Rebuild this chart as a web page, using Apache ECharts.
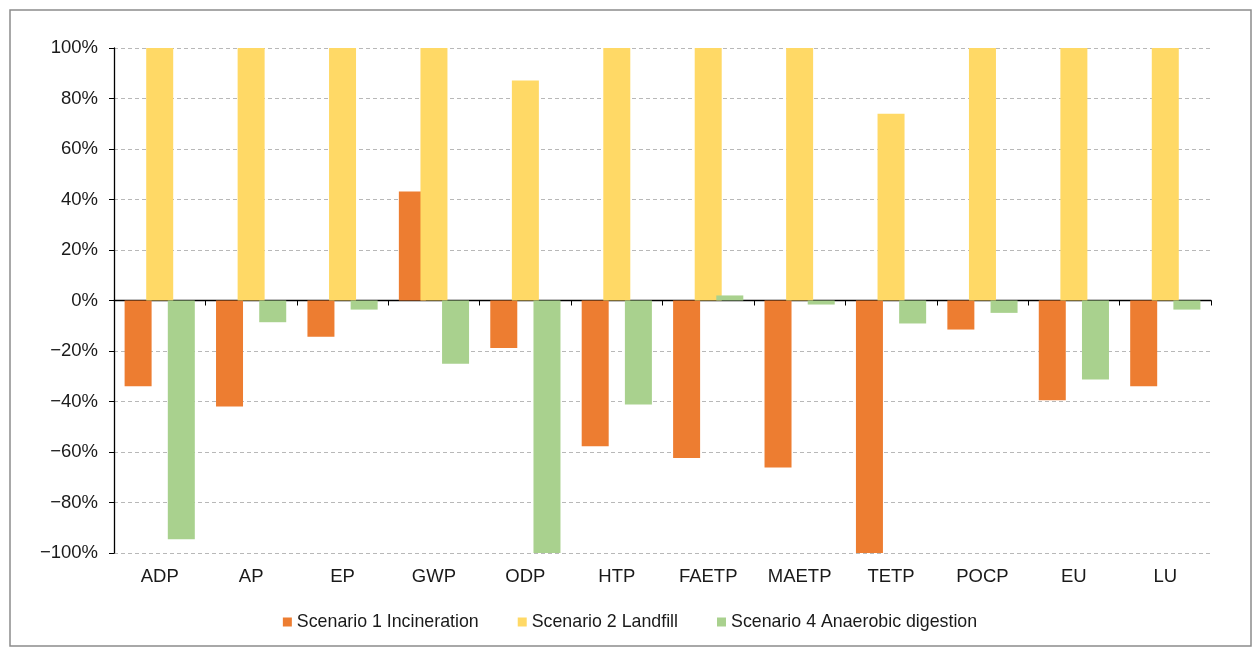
<!DOCTYPE html>
<html>
<head>
<meta charset="utf-8">
<script src="https://cdn.jsdelivr.net/npm/echarts@6/dist/echarts.min.js"></script>
<style>
html,body{margin:0;padding:0;background:#fff;}
#c{width:1260px;height:654px;}
</style>
</head>
<body>
<div id="c"></div>
<script>
const categories = ['ADP','AP','EP','GWP','ODP','HTP','FAETP','MAETP','TETP','POCP','EU','LU'];
const seriesNames = ['Scenario 1 Incineration','Scenario 2 Landfill','Scenario 4 Anaerobic digestion'];
const incineration = [-0.34,-0.42,-0.144,0.432,-0.188,-0.577,-0.624,-0.661,-1.0,-0.115,-0.395,-0.34];
const landfill     = [1.0,1.0,1.0,1.0,0.871,1.0,1.0,1.0,0.74,1.0,1.0,1.0];
const anaerobic    = [-0.946,-0.086,-0.036,-0.25,-1.0,-0.412,0.02,-0.016,-0.091,-0.049,-0.313,-0.036];
const yTicks = [-1,-0.8,-0.6,-0.4,-0.2,0,0.2,0.4,0.6,0.8,1];

const colors = ['#ED7D31','#FFD966','#A9D18E'];
const font = 'Liberation Sans, Arial, sans-serif';
const txt = '#1a1a1a';
const fs = 18.5;

const chart = echarts.init(document.getElementById('c'), null, {renderer:'canvas'});
const dataSets = [incineration, landfill, anaerobic];
chart.setOption({
  animation:false,
  color: colors,
  textStyle:{fontFamily:font},
  graphic:[{type:'rect',shape:{x:10,y:10,width:1241,height:636},style:{fill:'none',stroke:'#8c8c8c',lineWidth:1.5},silent:true}],
  grid:{left:114,right:49,top:48,bottom:101,containLabel:false},
  legend:{
    top:608,left:'center',icon:'rect',itemWidth:9,itemHeight:9,itemGap:39,
    textStyle:{fontSize:17.8,color:txt,fontFamily:font},
    data:seriesNames
  },
  xAxis:[{
    type:'category',data:categories,
    axisLine:{onZero:true,lineStyle:{color:'#000',width:1.3}},
    axisTick:{show:true,length:5,lineStyle:{color:'#000'}},
    axisLabel:{show:false},
    splitLine:{show:false}
  },{
    type:'category',data:categories,position:'bottom',
    axisLine:{show:false,onZero:false},axisTick:{show:false},
    axisLabel:{show:true,fontSize:fs,color:txt,fontFamily:font,margin:14}
  }],
  yAxis:{
    type:'value',min:-1,max:1,interval:0.2,
    axisLine:{show:true,lineStyle:{color:'#000',width:1.3}},
    axisTick:{show:true,length:5,lineStyle:{color:'#000'}},
    axisLabel:{fontSize:fs,color:txt,fontFamily:font,margin:16,
      formatter:v=>{const p=Math.round(v*100);return (p<0?'\u2212'+(-p):p)+'%';}},
    splitLine:{show:true,lineStyle:{color:'#b8b8b8',type:[4,3],width:1}}
  },
  series: seriesNames.map((n,i)=>({
    name:n,type:'bar',xAxisIndex:0,data:dataSets[i],
    barWidth:27,barGap:'-20%',
    itemStyle:{color:colors[i]}
  }))
});
</script>
</body>
</html>
